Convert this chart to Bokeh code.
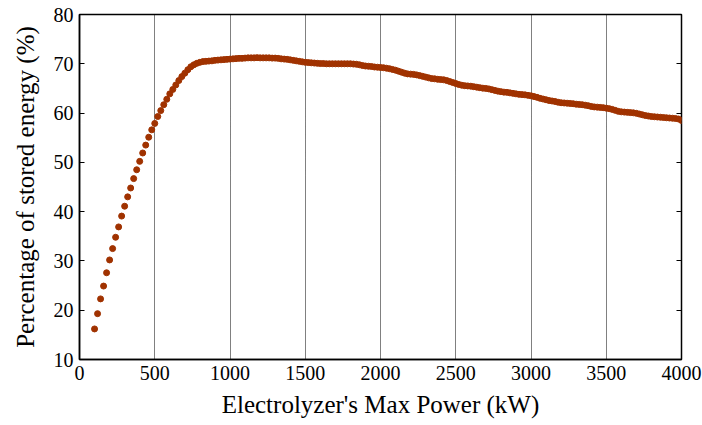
import numpy as np
from bokeh.plotting import figure
from bokeh.models import LinearAxis, FixedTicker, Range1d, CustomJSTickFormatter
from bokeh.embed import file_html
from bokeh.resources import INLINE

# Electrolyzer rated power sweep (kW), 20 kW steps
power_kw = np.arange(100, 4001, 20)

# Share of surplus energy that ends up stored (%)
stored_pct = [
    16.2, 19.3, 22.3, 24.9, 27.6, 30.2, 32.5, 34.8, 36.9, 39.1,
    41.1, 43.0, 44.8, 46.7, 48.5, 50.2, 51.9, 53.5, 55.1, 56.6,
    57.9, 59.3, 60.5, 61.7, 62.8, 63.9, 64.8, 65.7, 66.6, 67.4,
    68.1, 68.8, 69.4, 69.8, 70.1, 70.3, 70.45, 70.5, 70.55, 70.6,
    70.7, 70.75, 70.8, 70.85, 70.9, 70.95, 71.0, 71.05, 71.1, 71.1,
    71.15, 71.2, 71.2, 71.2, 71.25, 71.2, 71.2, 71.2, 71.2, 71.15,
    71.15, 71.1, 71.0, 70.95, 70.9, 70.8, 70.7, 70.6, 70.5, 70.4,
    70.3, 70.25, 70.2, 70.15, 70.1, 70.05, 70.05, 70.0, 70.0, 70.0,
    70.0, 70.0, 70.0, 70.0, 70.0, 70.0, 69.95, 69.9, 69.8, 69.65,
    69.55, 69.5, 69.45, 69.35, 69.3, 69.25, 69.2, 69.1, 69.0, 68.85,
    68.7, 68.5, 68.3, 68.1, 67.95, 67.9, 67.85, 67.75, 67.6, 67.45,
    67.3, 67.15, 67.0, 66.95, 66.85, 66.8, 66.75, 66.6, 66.4, 66.2,
    66.0, 65.8, 65.65, 65.55, 65.5, 65.45, 65.35, 65.25, 65.15, 65.05,
    65.0, 64.9, 64.75, 64.6, 64.45, 64.35, 64.25, 64.2, 64.1, 64.0,
    63.9, 63.8, 63.75, 63.7, 63.6, 63.5, 63.35, 63.2, 63.0, 62.85,
    62.7, 62.55, 62.45, 62.35, 62.2, 62.1, 62.05, 62.0, 61.95, 61.9,
    61.8, 61.75, 61.7, 61.6, 61.5, 61.35, 61.25, 61.2, 61.15, 61.1,
    61.0, 60.9, 60.75, 60.55, 60.35, 60.25, 60.2, 60.15, 60.1, 60.05,
    59.95, 59.8, 59.65, 59.5, 59.4, 59.3, 59.25, 59.2, 59.15, 59.1,
    59.05, 59.0, 58.95, 58.9, 58.8, 58.5,
]

x_ticks = [0, 500, 1000, 1500, 2000, 2500, 3000, 3500, 4000]
y_ticks = [10, 20, 30, 40, 50, 60, 70, 80]

FONT = "'Liberation Serif', 'Times New Roman', serif"

p = figure(
    width=702, height=425,
    output_backend="svg", toolbar_location=None,
    x_range=Range1d(0, 4000), y_range=Range1d(10, 80),
    min_border_left=79, min_border_right=21,
    min_border_top=14, min_border_bottom=66,
)
p.background_fill_color = "white"
p.border_fill_color = "white"
p.outline_line_color = "black"
p.outline_line_width = 1.5
p.outline_line_alpha = 1.0

p.scatter(power_kw, stored_pct, size=6, color="#A03200", line_color="#A03200")

# vertical dotted grid only
p.xgrid.ticker = FixedTicker(ticks=x_ticks)
p.xgrid.grid_line_color = "black"
p.xgrid.grid_line_dash = "1 1"
p.xgrid.grid_line_width = 1
p.xgrid.grid_line_alpha = 1.0
p.ygrid.grid_line_color = None

xa = p.xaxis[0]
xa.ticker = FixedTicker(ticks=x_ticks)
xa.axis_label = "Electrolyzer's Max Power (kW)"
xa.major_tick_in = 0
xa.major_tick_out = 0
xa.minor_tick_line_color = None
xa.axis_line_width = 1.5
xa.major_label_standoff = 6
xa.axis_label_standoff = 8

ya = p.yaxis[0]
ya.ticker = FixedTicker(ticks=y_ticks)
ya.axis_label = "Percentage of stored energy (%)"
ya.major_tick_in = 5
ya.major_tick_out = 0
ya.minor_tick_line_color = None
ya.axis_line_width = 1.5
ya.major_label_standoff = 6
ya.axis_label_standoff = 12

for ax in (xa, ya):
    ax.major_label_text_font = FONT
    ax.major_label_text_font_size = "20px"
    ax.major_label_text_color = "black"
    ax.axis_label_text_font = FONT
    ax.axis_label_text_font_size = "25px"
    ax.axis_label_text_font_style = "normal"
    ax.axis_label_text_color = "black"
    ax.axis_line_color = "black"
    ax.major_tick_line_color = "black"

# inward ticks on the right edge of the frame, no labels
ra = LinearAxis(ticker=FixedTicker(ticks=y_ticks),
                formatter=CustomJSTickFormatter(code="return ''"))
ra.major_tick_in = 5
ra.major_tick_out = 0
ra.minor_tick_line_color = None
ra.axis_line_color = None
ra.major_label_standoff = 0
p.add_layout(ra, "right")

open("out.html", "w").write(file_html(p, INLINE))
